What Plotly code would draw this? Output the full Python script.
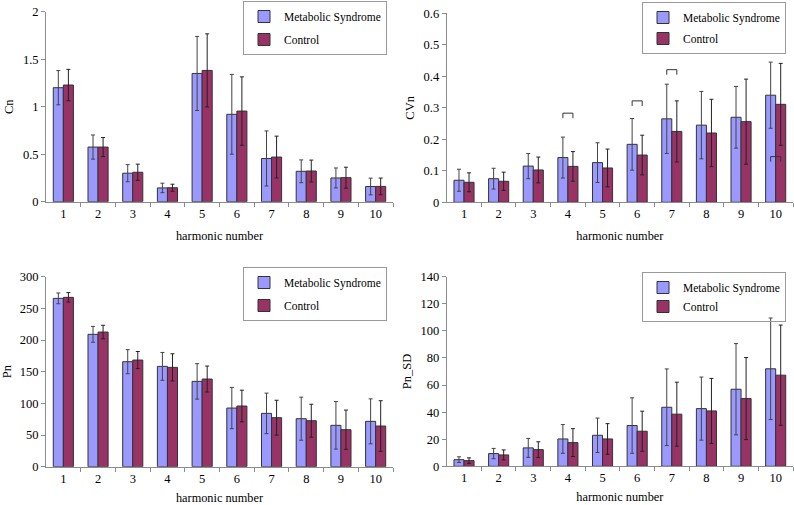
import plotly.graph_objects as go

# harmonic numbers on the x axis
harmonic = list(range(1, 11))

# Cn (mean and SD)
cn_ms = [1.20, 0.575, 0.30, 0.145, 1.35, 0.92, 0.455, 0.32, 0.25, 0.16]
cn_ms_sd = [0.18, 0.127, 0.09, 0.05, 0.39, 0.42, 0.29, 0.12, 0.105, 0.088]
cn_ctrl = [1.228, 0.575, 0.31, 0.147, 1.382, 0.954, 0.47, 0.323, 0.253, 0.161]
cn_ctrl_sd = [0.165, 0.10, 0.085, 0.037, 0.385, 0.36, 0.22, 0.115, 0.11, 0.088]

# CVn
cvn_ms = [0.070, 0.075, 0.115, 0.142, 0.126, 0.184, 0.265, 0.245, 0.270, 0.340]
cvn_ms_sd = [0.035, 0.033, 0.04, 0.065, 0.063, 0.082, 0.11, 0.107, 0.098, 0.105]
cvn_ctrl = [0.0635, 0.0667, 0.1026, 0.114, 0.109, 0.150, 0.225, 0.220, 0.256, 0.311]
cvn_ctrl_sd = [0.03, 0.029, 0.041, 0.047, 0.06, 0.063, 0.097, 0.107, 0.135, 0.13]

# significance brackets on the CVn panel
cvn_bracket_h = [4, 6, 7, 10]
cvn_bracket_y = [0.283, 0.322, 0.421, 0.145]

# Pn
pn_ms = [265.8, 209, 165.8, 158.4, 134.7, 92.6, 84.2, 75.8, 65.3, 71.6]
pn_ms_sd = [8.5, 12.5, 19, 22, 28, 32.6, 32, 34, 37.5, 35.5]
pn_ctrl = [267.4, 212.6, 168.4, 156.8, 138.4, 95.8, 77.4, 72.6, 58.4, 64.2]
pn_ctrl_sd = [7.5, 10.7, 13.5, 21.5, 20.5, 25, 27.5, 26, 31, 40]

# Pn_SD
pnsd_ms = [4.9, 9.4, 13.6, 20.2, 22.9, 30.1, 43.6, 42.6, 56.9, 72]
pnsd_ms_sd = [2.1, 3.8, 7, 10.6, 12.7, 20.5, 28.3, 23.3, 33.7, 37.5]
pnsd_ctrl = [4.2, 8.4, 12.3, 17.5, 20.2, 25.9, 38.5, 40.9, 50, 67.3]
pnsd_ctrl_sd = [2, 3.7, 5.8, 10.3, 11.3, 14.8, 23.6, 24, 30.3, 37]

MS_COLOR = "#9999FF"
CTRL_COLOR = "#993366"
FONT = "Liberation Serif, Times New Roman, DejaVu Serif, serif"
AXIS_GREY = "#8c8c8c"

W, H = 794, 505

panels = [
    # (suffix, ms, ms_sd, ctrl, ctrl_sd, y title, yrange, dtick,
    #  x px, y px (top, bottom), legend pos (right, top), x title standoff, legend gap)
    ("", cn_ms, cn_ms_sd, cn_ctrl, cn_ctrl_sd, "Cn", [0, 2], 0.5,
     (46, 393), (11.7, 201.7), (387, 1), 11, 4),
    ("2", cvn_ms, cvn_ms_sd, cvn_ctrl, cvn_ctrl_sd, "CVn", [0, 0.6], 0.1,
     (446.7, 793), (13.3, 202.3), (786, 2), 11, 2),
    ("3", pn_ms, pn_ms_sd, pn_ctrl, pn_ctrl_sd, "Pn", [0, 300], 50,
     (46, 393), (276.7, 466.7), (387, 267), 8, 4),
    ("4", pnsd_ms, pnsd_ms_sd, pnsd_ctrl, pnsd_ctrl_sd, "Pn_SD", [0, 140], 20,
     (446.7, 793), (276.7, 466.3), (786, 272), 8, 0),
]

fig = go.Figure()
layout = {}

for sfx, ms, ms_sd, ctrl, ctrl_sd, ytitle, yrange, dtick, xpx, ypx, lpos, xso, lgap in panels:
    xa, ya = "x" + sfx, "y" + sfx
    leg = "legend" + sfx
    fig.add_trace(go.Bar(
        x=harmonic, y=ms, name="Metabolic Syndrome",
        xaxis=xa, yaxis=ya, legend=leg, legendgroup="ms" + sfx,
        marker=dict(color=MS_COLOR, line=dict(color="#333333", width=1)),
        error_y=dict(type="data", array=ms_sd, color="#444444",
                     thickness=1, width=2),
    ))
    fig.add_trace(go.Bar(
        x=harmonic, y=ctrl, name="Control",
        xaxis=xa, yaxis=ya, legend=leg, legendgroup="ctrl" + sfx,
        marker=dict(color=CTRL_COLOR, line=dict(color="#333333", width=1)),
        error_y=dict(type="data", array=ctrl_sd, color="#222222",
                     thickness=1, width=2),
    ))

    layout["xaxis" + sfx] = dict(
        domain=[xpx[0] / W, xpx[1] / W], anchor=ya,
        range=[0.5, 10.5], tickmode="array", tickvals=harmonic,
        ticks="", showline=True, linecolor=AXIS_GREY, linewidth=1,
        minor=dict(tickmode="array", tickvals=[h + 0.5 for h in harmonic],
                   ticks="outside", ticklen=4, tickcolor=AXIS_GREY),
        showgrid=False, zeroline=False, automargin=False,
        tickfont=dict(family=FONT, size=12.5, color="black"),
        title=dict(text="harmonic number", standoff=xso,
                   font=dict(family=FONT, size=12.3, color="black")),
    )
    layout["yaxis" + sfx] = dict(
        domain=[1 - ypx[1] / H, 1 - ypx[0] / H], anchor=xa,
        range=yrange, dtick=dtick, tick0=0,
        ticks="outside", ticklen=4, tickcolor=AXIS_GREY,
        showline=True, linecolor=AXIS_GREY, linewidth=1,
        showgrid=False, zeroline=False, automargin=False,
        tickfont=dict(family=FONT, size=12.5, color="black"),
        title=dict(text=ytitle, standoff=6,
                   font=dict(family=FONT, size=12.5, color="black")),
    )
    layout[leg] = dict(
        x=lpos[0] / W, y=1 - lpos[1] / H, xanchor="right", yanchor="top",
        bordercolor="#9a9a9a", borderwidth=1, bgcolor="rgba(255,255,255,0)",
        font=dict(family=FONT, size=11.5, color="black"),
        traceorder="grouped", tracegroupgap=lgap, itemwidth=30,
    )

# brackets on CVn panel
LEG = 0.016
HALF = 0.145
bx, by = [], []
for h, yb in zip(cvn_bracket_h, cvn_bracket_y):
    bx += [h - HALF, h - HALF, h + HALF, h + HALF, None]
    by += [yb - LEG, yb, yb, yb - LEG, None]
fig.add_trace(go.Scatter(
    x=bx, y=by, xaxis="x2", yaxis="y2", mode="lines",
    line=dict(color="#333333", width=1), showlegend=False, hoverinfo="skip",
))

fig.update_layout(
    width=W, height=H, autosize=False,
    margin=dict(l=0, r=0, t=0, b=0, pad=0),
    paper_bgcolor="white", plot_bgcolor="white",
    barmode="group", bargap=0.42, bargroupgap=0,
    font=dict(family=FONT, size=13, color="black"),
    **layout,
)

fig.write_html(
    "out.html",
    config={"displayModeBar": False},
    post_script="document.body.style.margin='0';document.body.style.overflow='hidden';",
)
